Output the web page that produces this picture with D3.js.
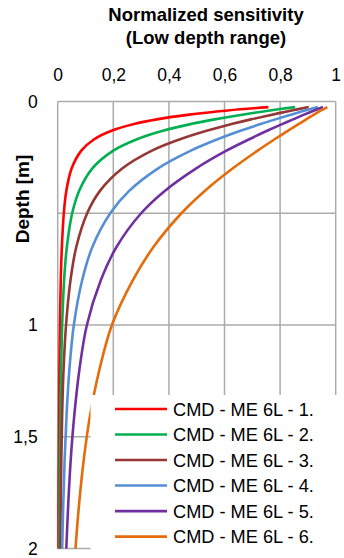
<!DOCTYPE html>
<html>
<head>
<meta charset="utf-8">
<script src="https://cdn.jsdelivr.net/npm/d3@7"></script>
<style>
  html, body { margin: 0; padding: 0; background: #fff; }
  svg { display: block; font-family: "Liberation Sans", Arial, sans-serif; }
</style>
</head>
<body>
<svg id="chart" width="344" height="558"></svg>
<script>
// ---- data ----
const depths = [0.025, 0.04, 0.06, 0.08, 0.1, 0.13, 0.17, 0.22, 0.3, 0.4, 0.5, 0.65, 0.8, 1.0, 1.2, 1.4, 1.6, 1.8, 2.0];
const seriesNames = ["CMD - ME 6L - 1.", "CMD - ME 6L - 2.", "CMD - ME 6L - 3.", "CMD - ME 6L - 4.", "CMD - ME 6L - 5.", "CMD - ME 6L - 6."];
const s1 = [0.758, 0.612, 0.466, 0.356, 0.278, 0.196, 0.13, 0.085, 0.05, 0.031, 0.022, 0.015, 0.011, 0.008, 0.006, 0.005, 0.004, 0.003, 0.003];
const s2 = [0.854, 0.764, 0.658, 0.564, 0.482, 0.381, 0.283, 0.2, 0.124, 0.077, 0.052, 0.033, 0.023, 0.016, 0.012, 0.010, 0.008, 0.007, 0.006];
const s3 = [0.903, 0.842, 0.767, 0.695, 0.629, 0.539, 0.438, 0.339, 0.232, 0.152, 0.106, 0.067, 0.046, 0.030, 0.021, 0.016, 0.013, 0.011, 0.009];
const s4 = [0.936, 0.89, 0.836, 0.783, 0.732, 0.66, 0.573, 0.479, 0.36, 0.257, 0.189, 0.125, 0.088, 0.058, 0.042, 0.032, 0.025, 0.02, 0.016];
const s5 = [0.954, 0.923, 0.884, 0.847, 0.809, 0.755, 0.687, 0.607, 0.497, 0.385, 0.3, 0.212, 0.155, 0.105, 0.078, 0.06, 0.047, 0.038, 0.031];
const s6 = [0.970, 0.947, 0.92, 0.894, 0.868, 0.829, 0.779, 0.719, 0.629, 0.529, 0.445, 0.345, 0.27, 0.195, 0.15, 0.117, 0.094, 0.077, 0.064];
const seriesValues = [s1, s2, s3, s4, s5, s6];
const seriesColors = ["#ff0000", "#00b050", "#953735", "#558ed5", "#7030a0", "#e46c0a"];
const xTicks = [0, 0.2, 0.4, 0.6, 0.8, 1];
const xTickLabels = ["0", "0,2", "0,4", "0,6", "0,8", "1"];
const yGrid = [0, 0.5, 1, 1.5, 2];
const yTicks = [0, 1, 1.5, 2];
const yTickLabels = ["0", "1", "1,5", "2"];
const titleLines = ["Normalized sensitivity", "(Low depth range)"];
const yTitle = "Depth [m]";

// ---- layout ----
const svg = d3.select("#chart");
const x = d3.scaleLinear().domain([0, 1]).range([57.7, 335.7]);
const y = d3.scaleLinear().domain([0, 2]).range([101.5, 548.5]);
const gridColor = "#ababab";

// grid
const grid = svg.append("g");
grid.selectAll("line.v").data(xTicks).join("line")
  .attr("x1", d => x(d)).attr("x2", d => x(d))
  .attr("y1", y(0)).attr("y2", y(2))
  .attr("stroke", gridColor).attr("stroke-width", 1.5);
grid.selectAll("line.h").data(yGrid).join("line")
  .attr("x1", x(0)).attr("x2", x(1))
  .attr("y1", d => y(d)).attr("y2", d => y(d))
  .attr("stroke", gridColor).attr("stroke-width", 1.5);

// curves
const line = d3.line()
  .x(d => x(d[1]))
  .y(d => y(d[0]))
  .curve(d3.curveCatmullRom.alpha(0.5));
seriesValues.forEach((vals, i) => {
  svg.append("path")
    .datum(depths.map((dep, j) => [dep, vals[j]]))
    .attr("fill", "none")
    .attr("stroke", seriesColors[i])
    .attr("stroke-width", 2.6)
    .attr("stroke-linejoin", "round")
    .attr("d", line);
});

// axes
const xAxis = d3.axisTop(x).tickValues(xTicks).tickSize(0).tickPadding(20.5)
  .tickFormat((d, i) => xTickLabels[i]);
const gx = svg.append("g").attr("transform", `translate(0,${y(0)})`).call(xAxis);
gx.select(".domain").remove();
gx.selectAll("text").attr("font-size", 17.5).attr("fill", "#000")
  .attr("font-family", "Liberation Sans, Arial, sans-serif");

const yAxis = d3.axisLeft(y).tickValues(yTicks).tickSize(0).tickPadding(20)
  .tickFormat((d, i) => yTickLabels[i]);
const gy = svg.append("g").attr("transform", `translate(${x(0)},0)`).call(yAxis);
gy.select(".domain").remove();
gy.selectAll("text").attr("font-size", 17.5).attr("fill", "#000")
  .attr("font-family", "Liberation Sans, Arial, sans-serif");

// titles
svg.append("text").attr("x", 206).attr("y", 21)
  .attr("text-anchor", "middle").attr("font-weight", "bold").attr("font-size", 18.5)
  .text(titleLines[0]);
svg.append("text").attr("x", 206).attr("y", 44)
  .attr("text-anchor", "middle").attr("font-weight", "bold").attr("font-size", 18.5)
  .text(titleLines[1]);
svg.append("text")
  .attr("transform", "translate(29,199) rotate(-90)")
  .attr("text-anchor", "middle").attr("font-weight", "bold").attr("font-size", 19)
  .text(yTitle);

// legend
const lg = svg.append("g");
lg.append("rect").attr("x", 90.5).attr("y", 395).attr("width", 254).attr("height", 163).attr("fill", "#fff");
const rowY = d3.scaleLinear().domain([0, 5]).range([409, 536.6]);
seriesNames.forEach((name, i) => {
  lg.append("line")
    .attr("x1", 115).attr("x2", 167)
    .attr("y1", rowY(i)).attr("y2", rowY(i))
    .attr("stroke", seriesColors[i]).attr("stroke-width", 2.6);
  lg.append("text")
    .attr("x", 173).attr("y", rowY(i)).attr("dy", "0.36em")
    .attr("font-size", 18.2).attr("fill", "#000")
    .text(name);
});
</script>
</body>
</html>
